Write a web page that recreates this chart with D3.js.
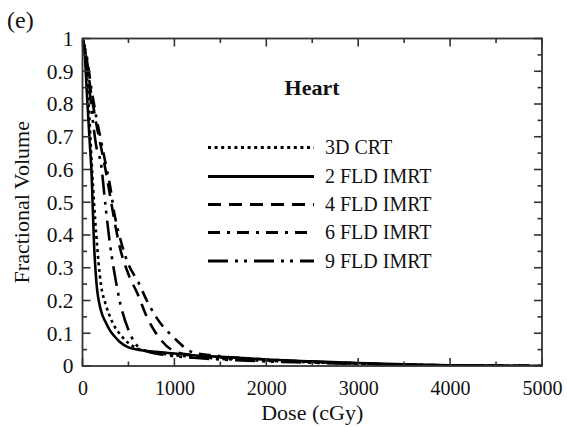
<!DOCTYPE html>
<html>
<head>
<meta charset="utf-8">
<script src="https://cdn.jsdelivr.net/npm/d3@7"></script>
<style>
  html, body { margin: 0; padding: 0; background: #fff; }
  svg text { font-family: "Liberation Serif", "Times New Roman", serif; fill: #111; }
</style>
</head>
<body>
<svg id="chart" width="567" height="427"></svg>
<script>
// Dose grid (cGy) shared by every DVH curve
const doses = [0, 25, 50, 75, 100, 125, 150, 200, 250, 300, 350, 400, 500, 600, 700, 800, 1000, 1200, 1500, 2000, 2500, 3000, 3500, 4000, 4500, 5000];

// Fractional volume of the heart receiving at least each dose
const vol3DCRT  = [1, 0.96, 0.88, 0.76, 0.62, 0.50, 0.40, 0.25, 0.19, 0.15, 0.12, 0.10, 0.07, 0.053, 0.045, 0.040, 0.033, 0.028, 0.022, 0.016, 0.011, 0.007, 0.004, 0.002, 0.001, 0];
const vol2FLD   = [1, 0.95, 0.82, 0.70, 0.58, 0.375, 0.26, 0.17, 0.135, 0.108, 0.09, 0.075, 0.057, 0.050, 0.046, 0.043, 0.038, 0.033, 0.028, 0.020, 0.014, 0.009, 0.005, 0.002, 0.001, 0];
const vol4FLD   = [1, 0.97, 0.93, 0.87, 0.82, 0.78, 0.74, 0.67, 0.60, 0.52, 0.44, 0.37, 0.28, 0.22, 0.15, 0.10, 0.045, 0.033, 0.026, 0.018, 0.012, 0.008, 0.004, 0.002, 0.001, 0];
const vol6FLD   = [1, 0.97, 0.94, 0.89, 0.84, 0.80, 0.76, 0.69, 0.62, 0.55, 0.46, 0.40, 0.31, 0.26, 0.20, 0.15, 0.085, 0.042, 0.030, 0.020, 0.013, 0.008, 0.004, 0.002, 0.001, 0];
const vol9FLD   = [1, 0.97, 0.92, 0.85, 0.78, 0.72, 0.67, 0.62, 0.49, 0.37, 0.28, 0.205, 0.11, 0.06, 0.045, 0.038, 0.030, 0.025, 0.020, 0.014, 0.010, 0.006, 0.003, 0.001, 0, 0];

const seriesNames = ["3D CRT", "2 FLD IMRT", "4 FLD IMRT", "6 FLD IMRT", "9 FLD IMRT"];
const seriesValues = [vol3DCRT, vol2FLD, vol4FLD, vol6FLD, vol9FLD];
const seriesDash = ["3,3.6", null, "13,8", "12,7,3,7", "20,7,3,6,3,7"];

const xTicks = [0, 1000, 2000, 3000, 4000, 5000];
const yTicks = [0, 0.1, 0.2, 0.3, 0.4, 0.5, 0.6, 0.7, 0.8, 0.9, 1];

const svg = d3.select("#chart");
const plotLeft = 82.5, plotRight = 542, plotTop = 38.5, plotBottom = 366;

const x = d3.scaleLinear().domain([0, 5000]).range([plotLeft, plotRight]);
const y = d3.scaleLinear().domain([0, 1]).range([plotBottom, plotTop]);

svg.append("defs").append("clipPath").attr("id", "plotclip")
  .append("rect").attr("x", plotLeft).attr("y", plotTop - 2)
  .attr("width", plotRight - plotLeft).attr("height", plotBottom - plotTop + 2);

// Curves
const line = d3.line()
  .x(d => x(d[0]))
  .y(d => y(d[1]))
  .curve(d3.curveMonotoneX);

const curves = svg.append("g").attr("clip-path", "url(#plotclip)");
seriesValues.forEach((vals, i) => {
  curves.append("path")
    .datum(doses.map((dv, k) => [dv, vals[k]]))
    .attr("d", line)
    .attr("fill", "none")
    .attr("stroke", "#000")
    .attr("stroke-width", 2.6)
    .attr("stroke-dasharray", seriesDash[i]);
});

// Axes with inward ticks on all four sides
const tickMaj = 8, tickMin = 4.5;
const gx = svg.append("g").attr("transform", `translate(0,${plotBottom})`)
  .call(d3.axisBottom(x).tickValues(xTicks).tickSize(0).tickPadding(10).tickFormat(d3.format("d")));
const gy = svg.append("g").attr("transform", `translate(${plotLeft},0)`)
  .call(d3.axisLeft(y).tickValues(yTicks).tickSize(0).tickPadding(9)
    .tickFormat(d => d === 0 ? "0" : d === 1 ? "1" : d3.format(".1f")(d)));
[gx, gy].forEach(g => {
  g.select(".domain").remove();
  g.selectAll("text").attr("font-family", "Liberation Serif, serif").attr("fill", "#111");
});
gx.selectAll("text").attr("font-size", 20).attr("dy", "0.95em");
gy.selectAll("text").attr("font-size", 21.5);

const ticks = svg.append("g").attr("stroke", "#333").attr("stroke-width", 1.6);
d3.range(0, 5001, 500).forEach(v => {
  const len = v % 1000 === 0 ? tickMaj : tickMin;
  ticks.append("line").attr("x1", x(v)).attr("x2", x(v)).attr("y1", plotBottom).attr("y2", plotBottom - len);
  ticks.append("line").attr("x1", x(v)).attr("x2", x(v)).attr("y1", plotTop).attr("y2", plotTop + len);
});
d3.range(0, 21).forEach(k => {
  const v = k * 0.05;
  const len = k % 2 === 0 ? tickMaj : tickMin;
  ticks.append("line").attr("x1", plotLeft).attr("x2", plotLeft + len).attr("y1", y(v)).attr("y2", y(v));
  ticks.append("line").attr("x1", plotRight).attr("x2", plotRight - len).attr("y1", y(v)).attr("y2", y(v));
});

svg.append("rect")
  .attr("x", plotLeft).attr("y", plotTop).attr("width", plotRight - plotLeft).attr("height", plotBottom - plotTop)
  .attr("fill", "none").attr("stroke", "#333").attr("stroke-width", 1.8);

// Titles
svg.append("text").attr("x", 7).attr("y", 28).attr("font-size", 24).text("(e)");
svg.append("text").attr("x", (plotLeft + plotRight) / 2).attr("y", 420).attr("text-anchor", "middle")
  .attr("font-size", 22).text("Dose (cGy)");
svg.append("text").attr("transform", `translate(29,${(plotTop + plotBottom) / 2}) rotate(-90)`)
  .attr("text-anchor", "middle").attr("font-size", 22).text("Fractional Volume");
svg.append("text").attr("x", 312).attr("y", 95).attr("text-anchor", "middle")
  .attr("font-size", 22).attr("font-weight", "bold").text("Heart");

// Legend
const legendY = [147.5, 176.5, 204.5, 232.5, 261];
const legend = svg.append("g");
seriesNames.forEach((name, i) => {
  legend.append("line")
    .attr("x1", 208).attr("x2", 314).attr("y1", legendY[i]).attr("y2", legendY[i])
    .attr("stroke", "#000").attr("stroke-width", 2.8)
    .attr("stroke-dasharray", seriesDash[i]);
  legend.append("text").attr("x", 325).attr("y", legendY[i] + 6.5)
    .attr("font-size", 20).text(name);
});
</script>
</body>
</html>
